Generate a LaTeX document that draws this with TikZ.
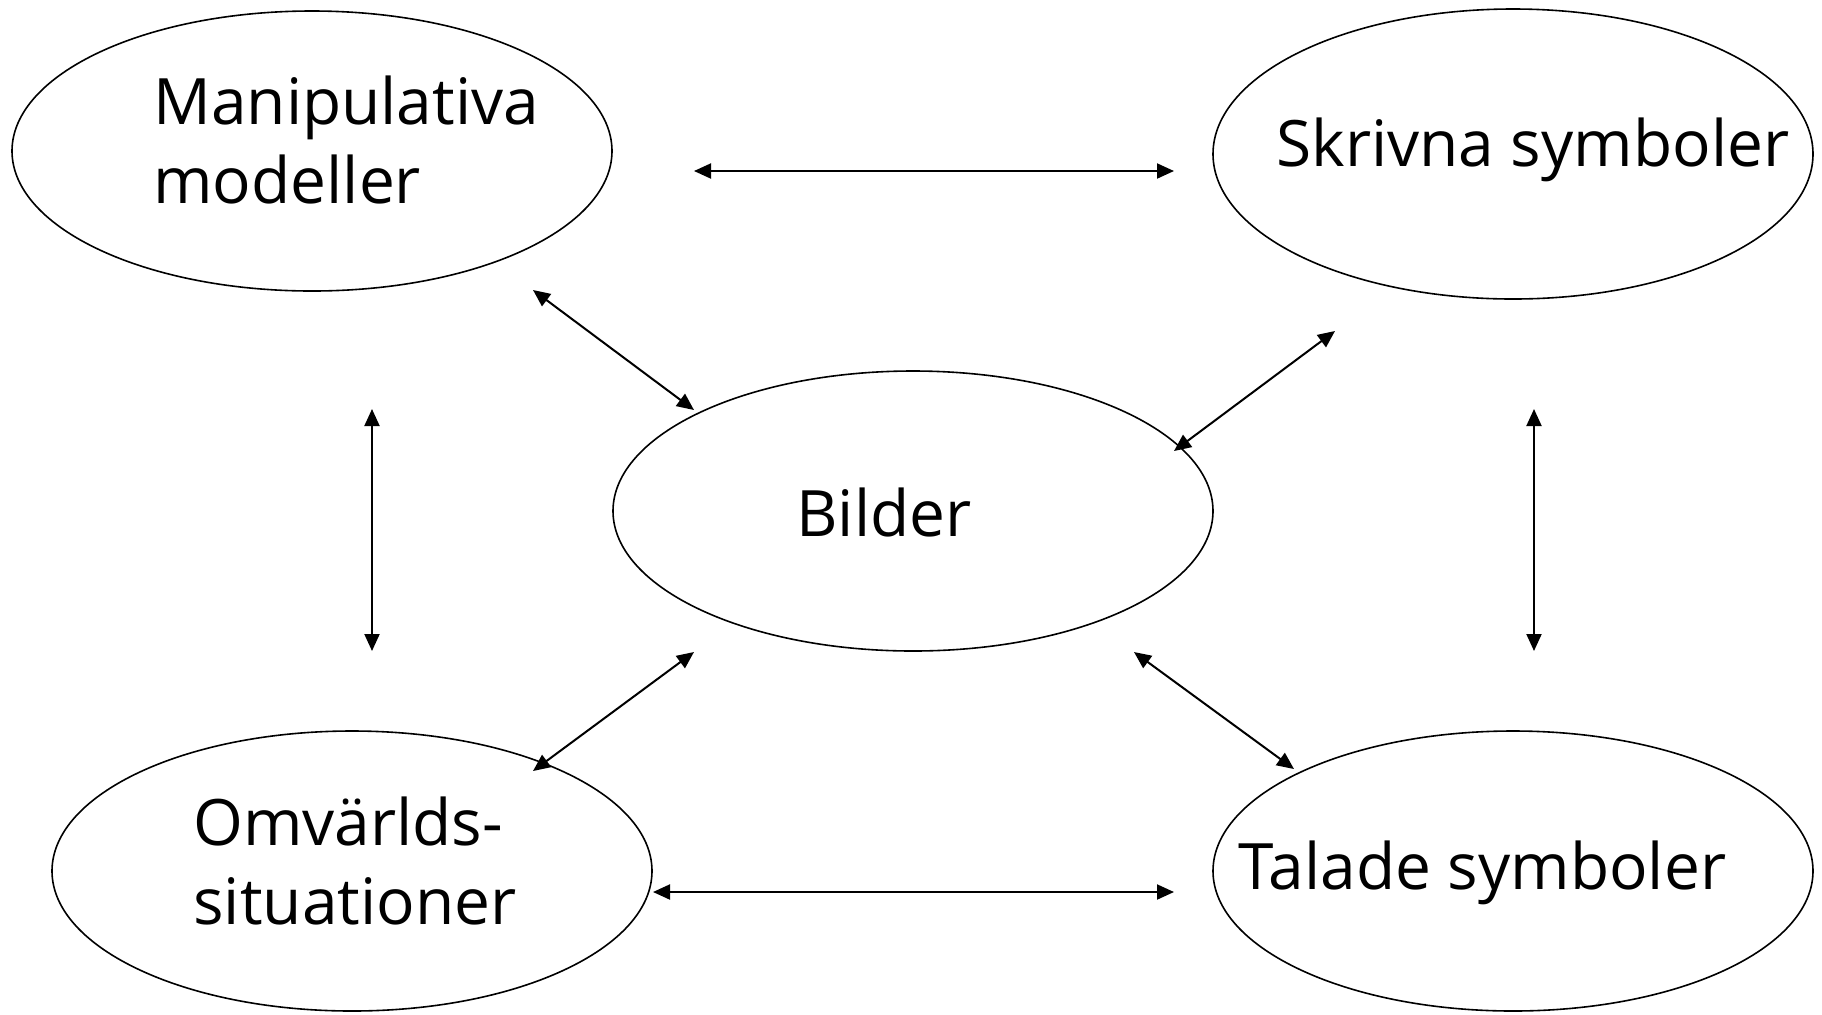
\documentclass[tikz,border=0pt]{standalone}
\usepackage{fontspec}
\setmainfont{Open Sans}
\usetikzlibrary{shapes.geometric,arrows.meta}
\tikzset{
  sfera/.style={ellipse,draw,line width=0.8pt,inner sep=0pt,minimum width=300pt,minimum height=140pt},
  etikett/.style={inner sep=0pt,align=left,font=\fontsize{32}{39.5}\selectfont,anchor=base west},
  pil/.style={line width=1pt,{Triangle[length=8.5pt,width=7.5pt]}-{Triangle[length=8.5pt,width=7.5pt]}}
}
\begin{document}
\begin{tikzpicture}[x=0.5pt,y=-0.5pt]
  \useasboundingbox (0,0) rectangle (1822,1014);
  % ellipserna
  \node[sfera] (mani) at (312,151) {};
  \node[sfera,minimum height=145pt] (skri) at (1513,154) {};
  \node[sfera] (bild) at (913,511) {};
  \node[sfera] (omva) at (352,871) {};
  \node[sfera] (tala) at (1513,871) {};
  % texterna (tvåradiga: baslinjen gäller sista raden)
  \node[etikett] (manitext) at (153,203) {Manipulativa\\modeller};
  \node[etikett] (skritext) at (1276,166) {Skrivna symboler};
  \node[etikett] (bildtext) at (796,536) {Bilder};
  \node[etikett] (omvatext) at (193,924) {Omvärlds-\\situationer};
  \node[etikett] (talatext) at (1238,889) {Talade symboler};
  % pilarnas ändpunkter
  \coordinate (a1) at (694,171);  \coordinate (a2) at (1174,171);
  \coordinate (b1) at (653,892);  \coordinate (b2) at (1174,892);
  \coordinate (c1) at (372,409);  \coordinate (c2) at (372,651);
  \coordinate (d1) at (1534,409); \coordinate (d2) at (1534,651);
  \coordinate (e1) at (533,290);  \coordinate (e2) at (694,410);
  \coordinate (f1) at (1335,331); \coordinate (f2) at (1174,451);
  \coordinate (g1) at (694,652);  \coordinate (g2) at (533,771);
  \coordinate (h1) at (1134,652); \coordinate (h2) at (1294,769);
  % pilarna
  \foreach \p/\q in {a1/a2,b1/b2,c1/c2,d1/d2,e1/e2,f1/f2,g1/g2,h1/h2}
    \draw[pil] (\p) -- (\q);
\end{tikzpicture}
\end{document}
